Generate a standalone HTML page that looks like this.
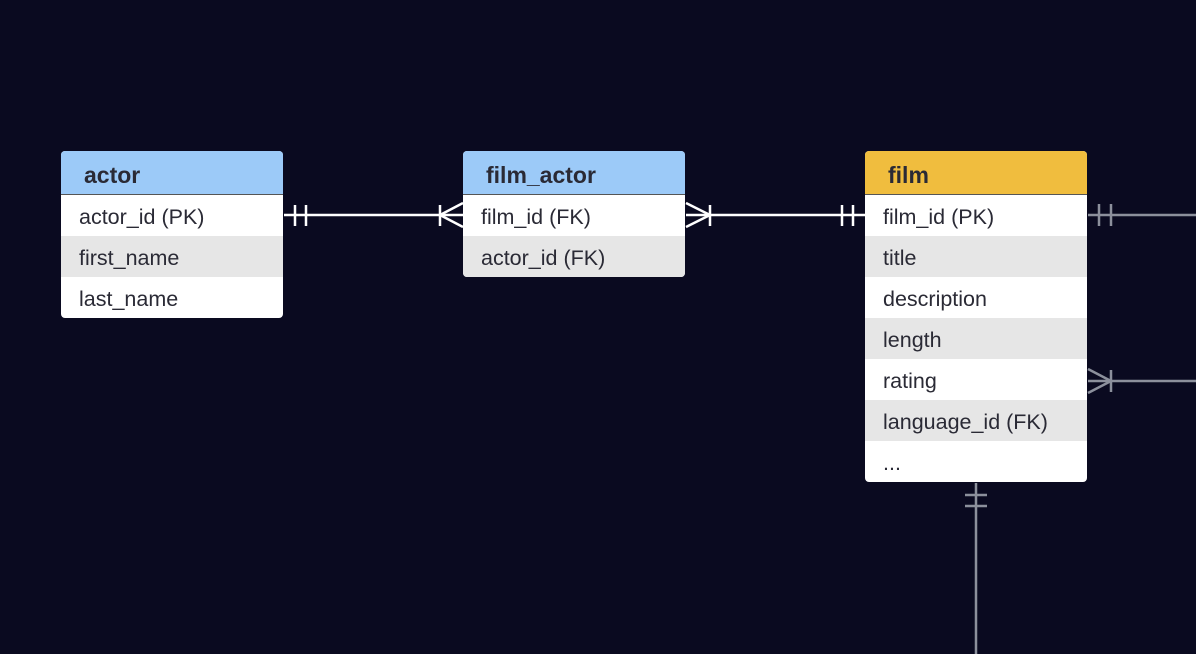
<!DOCTYPE html>
<html><head><style>
body{margin:0;width:1196px;height:654px;background:#0a0a20;position:relative;overflow:hidden;font-family:"Liberation Sans",sans-serif;}
.t{position:absolute;width:222px;border-radius:4px;overflow:hidden;background:#fff;}
.h{height:43px;line-height:48px;padding-left:23px;font-weight:bold;font-size:23px;color:#2a2a35;border-bottom:1px solid #555;}
.r{height:41px;line-height:44px;padding-left:18px;font-size:21.5px;color:#2a2a35;}
.g{background:#e6e6e6;}
svg{position:absolute;left:0;top:0;}
</style></head><body>
<div class="t" style="left:61px;top:151px"><div class="h" style="background:#9ccaf8">actor</div>
<div class="r">actor_id (PK)</div><div class="r g">first_name</div><div class="r">last_name</div></div>
<div class="t" style="left:463px;top:151px"><div class="h" style="background:#9ccaf8">film_actor</div>
<div class="r">film_id (FK)</div><div class="r g">actor_id (FK)</div></div>
<div class="t" style="left:865px;top:151px"><div class="h" style="background:#f0bd3e">film</div>
<div class="r">film_id (PK)</div><div class="r g">title</div><div class="r">description</div><div class="r g">length</div><div class="r">rating</div><div class="r g">language_id (FK)</div><div class="r">...</div></div>
<svg width="1196" height="654">
<g stroke="#fff" stroke-width="2.5" fill="none">
<line x1="284" y1="215" x2="463" y2="215"/>
<line x1="295" y1="205" x2="295" y2="226"/><line x1="306" y1="205" x2="306" y2="226"/>
<line x1="440" y1="205" x2="440" y2="226"/><polyline points="463,203 440,215 463,227"/>
<line x1="686" y1="215" x2="865" y2="215"/>
<polyline points="686,203 710,215 686,227"/><line x1="710" y1="205" x2="710" y2="226"/>
<line x1="842" y1="205" x2="842" y2="226"/><line x1="853" y1="205" x2="853" y2="226"/>
</g>
<g stroke="#8c909c" stroke-width="2.5" fill="none">
<line x1="1088" y1="215" x2="1196" y2="215"/>
<line x1="1099" y1="204" x2="1099" y2="226"/><line x1="1111" y1="204" x2="1111" y2="226"/>
<line x1="1088" y1="381" x2="1196" y2="381"/>
<polyline points="1088,369 1111,381 1088,393"/><line x1="1111" y1="370" x2="1111" y2="392"/>
<line x1="976" y1="483" x2="976" y2="654"/>
<line x1="965" y1="495" x2="987" y2="495"/><line x1="965" y1="506" x2="987" y2="506"/>
</g>
</svg>
</body></html>
